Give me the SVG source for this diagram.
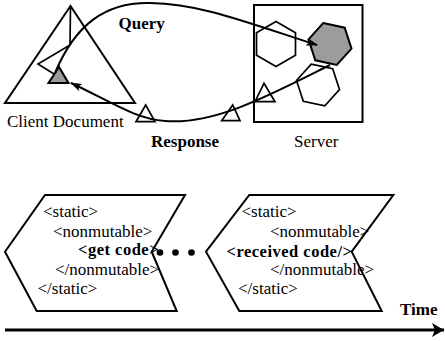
<svg xmlns="http://www.w3.org/2000/svg" width="445" height="341" viewBox="0 0 445 341">
  <style>
    .ln { fill: none; stroke: #000; stroke-width: 2; stroke-linejoin: miter; }
    .thin { fill: none; stroke: #000; stroke-width: 1.7; }
    .shade { fill: #9c9c9c; stroke: #000; stroke-width: 2; }
    .lbl { font-family: "Liberation Serif", "Times New Roman", serif; font-size: 17px; fill: #000; }
    .b { font-weight: bold; }
    .tag { font-family: "Liberation Serif", "Times New Roman", serif; font-size: 17px; fill: #000; }
    .code { font-family: "Liberation Serif", "Times New Roman", serif; font-size: 16.5px; font-weight: bold; letter-spacing: 0.5px; fill: #000; }
  </style>
  <defs>
    <marker id="head" viewBox="0 0 12 8" refX="11" refY="4" markerWidth="12" markerHeight="8" markerUnits="userSpaceOnUse" orient="auto">
      <path d="M0,0 L12,4 L0,8 L3,4 Z" fill="#000"/>
    </marker>
    <marker id="timeHead" viewBox="0 0 12 14" refX="12" refY="7" markerWidth="12" markerHeight="14" markerUnits="userSpaceOnUse" orient="auto">
      <path d="M0,0 L12,7 L0,14 L3,7 Z" fill="#000"/>
    </marker>
  </defs>

  <!-- client document: tree triangle with selected sub-node -->
  <g id="client">
    <polygon class="ln" points="70.5,6 5,103 135,103"/>
    <polyline class="thin" points="70.5,6 70,45 38,64 54,74"/>
    <polygon class="shade" points="59,67 48.5,83 68.5,83"/>
    <text class="lbl" x="7" y="127">Client Document</text>
  </g>

  <!-- server with code fragments -->
  <g id="server">
    <rect class="ln" x="254" y="5" width="108.5" height="117"/>
    <polygon class="thin" points="276,21.5 295.5,32.75 295.5,55.25 276,66.5 256.5,55.25 256.5,32.75"/>
    <polygon class="shade" points="323.2,23.1 344.7,27.7 351.5,48.6 336.8,64.9 315.3,60.3 308.5,39.4"/>
    <polygon class="thin" points="311.2,64.1 332.7,68.7 339.5,89.6 324.8,105.9 303.3,101.3 296.5,80.4"/>
    <text class="lbl" x="294" y="146.5">Server</text>
  </g>

  <!-- query / response connectors -->
  <g id="connectors">
    <path class="ln" d="M55,73 C75,25 105,2 150,3 C200,4 240,20 317,45" marker-end="url(#head)"/>
    <path class="ln" d="M330,65 C270,95 215,125 165,121 C135,119 110,101 71,83" marker-end="url(#head)"/>
    <polygon class="thin" points="145.7,105 136,121.7 155,121.7"/>
    <polygon class="thin" points="232.7,105 221.7,120.7 240,120.7"/>
    <polygon class="thin" points="264,83.3 255,101.7 275,101.7"/>
    <text class="lbl b" x="118.5" y="29">Query</text>
    <text class="lbl b" x="151" y="146.5">Response</text>
  </g>

  <!-- document state before the response -->
  <g id="state-before">
    <polygon class="ln" points="45,195 185,195 151.7,251.7 176.7,311 36.7,311 5,251.7"/>
    <text class="tag" x="43" y="216.5">&lt;static&gt;</text>
    <text class="tag" x="53" y="236.5">&lt;nonmutable&gt;</text>
    <text class="code" x="78" y="255">&lt;get code&gt;</text>
    <text class="tag" x="55" y="275">&lt;/nonmutable&gt;</text>
    <text class="tag" x="37.5" y="293.5">&lt;/static&gt;</text>
  </g>

  <!-- ellipsis between states -->
  <g id="ellipsis">
    <circle cx="160" cy="252.5" r="3.3"/>
    <circle cx="175.5" cy="252.5" r="3.3"/>
    <circle cx="191.5" cy="252.5" r="3.3"/>
  </g>

  <!-- document state after the response -->
  <g id="state-after">
    <polygon class="ln" points="249.3,195 393.3,195 351.7,251.7 381.7,311 239.3,311 206,251.7"/>
    <text class="tag" x="241.5" y="216.5">&lt;static&gt;</text>
    <text class="tag" x="270" y="236.5">&lt;nonmutable&gt;</text>
    <text class="code" x="226.5" y="256.5">&lt;received code/&gt;</text>
    <text class="tag" x="270" y="275">&lt;/nonmutable&gt;</text>
    <text class="tag" x="238" y="293.5">&lt;/static&gt;</text>
  </g>

  <!-- time axis -->
  <g id="time-axis">
    <line x1="5" y1="330" x2="444" y2="330" stroke="#000" stroke-width="3" marker-end="url(#timeHead)"/>
    <text class="lbl b" x="400" y="315">Time</text>
  </g>
</svg>
